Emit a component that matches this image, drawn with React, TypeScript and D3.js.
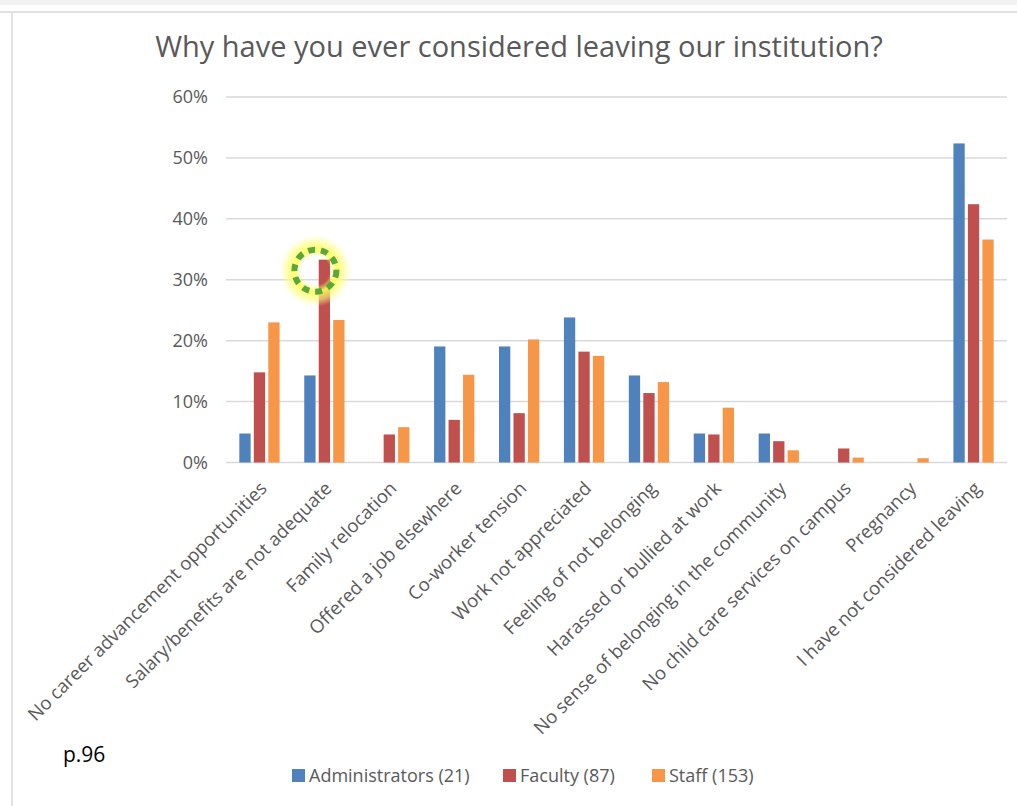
import React from "react";
import * as d3 from "d3";

const categories = [
  "No career advancement opportunities",
  "Salary/benefits are not adequate",
  "Family relocation",
  "Offered a job elsewhere",
  "Co-worker tension",
  "Work not appreciated",
  "Feeling of not belonging",
  "Harassed or bullied at work",
  "No sense of belonging in the community",
  "No child care services on campus",
  "Pregnancy",
  "I have not considered leaving",
];
const seriesNames = ["Administrators (21)", "Faculty (87)", "Staff (153)"];
const administrators = [4.76, 14.29, 0, 19.05, 19.05, 23.81, 14.29, 4.76, 4.76, 0, 0, 52.38];
const faculty = [14.8, 33.3, 4.6, 7.0, 8.1, 18.2, 11.4, 4.6, 3.5, 2.3, 0, 42.4];
const staff = [23.0, 23.4, 5.8, 14.4, 20.2, 17.5, 13.2, 9.0, 2.0, 0.8, 0.7, 36.6];
const seriesValues = [administrators, faculty, staff];
const colors = ["#4f81bd", "#c0504d", "#f79646"];
const yTicks = [0, 10, 20, 30, 40, 50, 60];
const title = "Why have you ever considered leaving our institution?";
const pageNote = "p.96";
const highlightCategory = 1;
const highlightSeries = 1;

export default function App() {
  const W = 1017, H = 806;
  const x0 = d3.scaleBand<number>().domain(d3.range(categories.length)).range([227, 1006]).paddingInner(0.38).paddingOuter(0.19);
  const x1 = d3.scaleBand<number>().domain(d3.range(seriesNames.length)).range([0, x0.bandwidth()]).paddingInner(0.22);
  const y = d3.scaleLinear().domain([0, 60]).range([462.5, 97]);
  const font = "'Open Sans', sans-serif";
  const gray = "#595959";

  const hx = (x0(highlightCategory) ?? 0) + (x1(highlightSeries) ?? 0) + x1.bandwidth() / 2 - 9;
  const hy = y(seriesValues[highlightSeries][highlightCategory]) + 11;

  const legendX = [292, 503, 652];

  return (
    <svg width={W} height={H} style={{ position: "absolute", left: 0, top: 0, background: "#fff" }}>
      <defs>
        <radialGradient id="glow">
          <stop offset="0.4" stopColor="#ffff60" stopOpacity="0" />
          <stop offset="0.58" stopColor="#ffff50" stopOpacity="0.9" />
          <stop offset="0.8" stopColor="#ffff80" stopOpacity="0.6" />
          <stop offset="1" stopColor="#ffffa0" stopOpacity="0" />
        </radialGradient>
      </defs>
      <rect x={0} y={0} width={W} height={5} fill="#f2f2f2" />
      <line x1={0} x2={W} y1={12} y2={12} stroke="#d9d9d9" strokeWidth={1.5} />
      <line x1={12} x2={12} y1={12} y2={H} stroke="#d9d9d9" strokeWidth={1.5} />
      <text x={519} y={57} textAnchor="middle" fontFamily={font} fontSize={29} fill={gray}>{title}</text>
      {yTicks.map((t) => (
        <g key={t}>
          <line x1={226} x2={1007} y1={y(t)} y2={y(t)} stroke="#d9d9d9" strokeWidth={1.5} />
          <text x={208} y={y(t)} dy="0.35em" textAnchor="end" fontFamily={font} fontSize={18} fill={gray}>{t}%</text>
        </g>
      ))}
      {categories.map((c, i) => (
        <g key={c} transform={`translate(${x0(i)},0)`}>
          {seriesValues.map((vals, s) => (
            <rect key={s} x={x1(s)} width={x1.bandwidth()} y={y(vals[i])} height={y(0) - y(vals[i])} fill={colors[s]} />
          ))}
        </g>
      ))}
      {categories.map((c, i) => {
        const cx = (x0(i) ?? 0) + x0.bandwidth() / 2 + 4;
        return (
          <text key={c} transform={`translate(${cx},485) rotate(-45)`} textAnchor="end" dy="0.35em" fontFamily={font} fontSize={18.5} fill={gray}>{c}</text>
        );
      })}
      <circle cx={hx} cy={hy} r={36} fill="url(#glow)" />
      <circle cx={hx} cy={hy} r={21} fill="none" stroke="#5aa83c" strokeWidth={6} strokeDasharray="7 6" />
      <text x={63} y={762} fontFamily={font} fontSize={21} fill="#000">{pageNote}</text>
      {seriesNames.map((n, s) => (
        <g key={n}>
          <rect x={legendX[s]} y={769} width={13} height={13} fill={colors[s]} />
          <text x={legendX[s] + 17} y={782} fontFamily={font} fontSize={18} fill={gray}>{n}</text>
        </g>
      ))}
    </svg>
  );
}
